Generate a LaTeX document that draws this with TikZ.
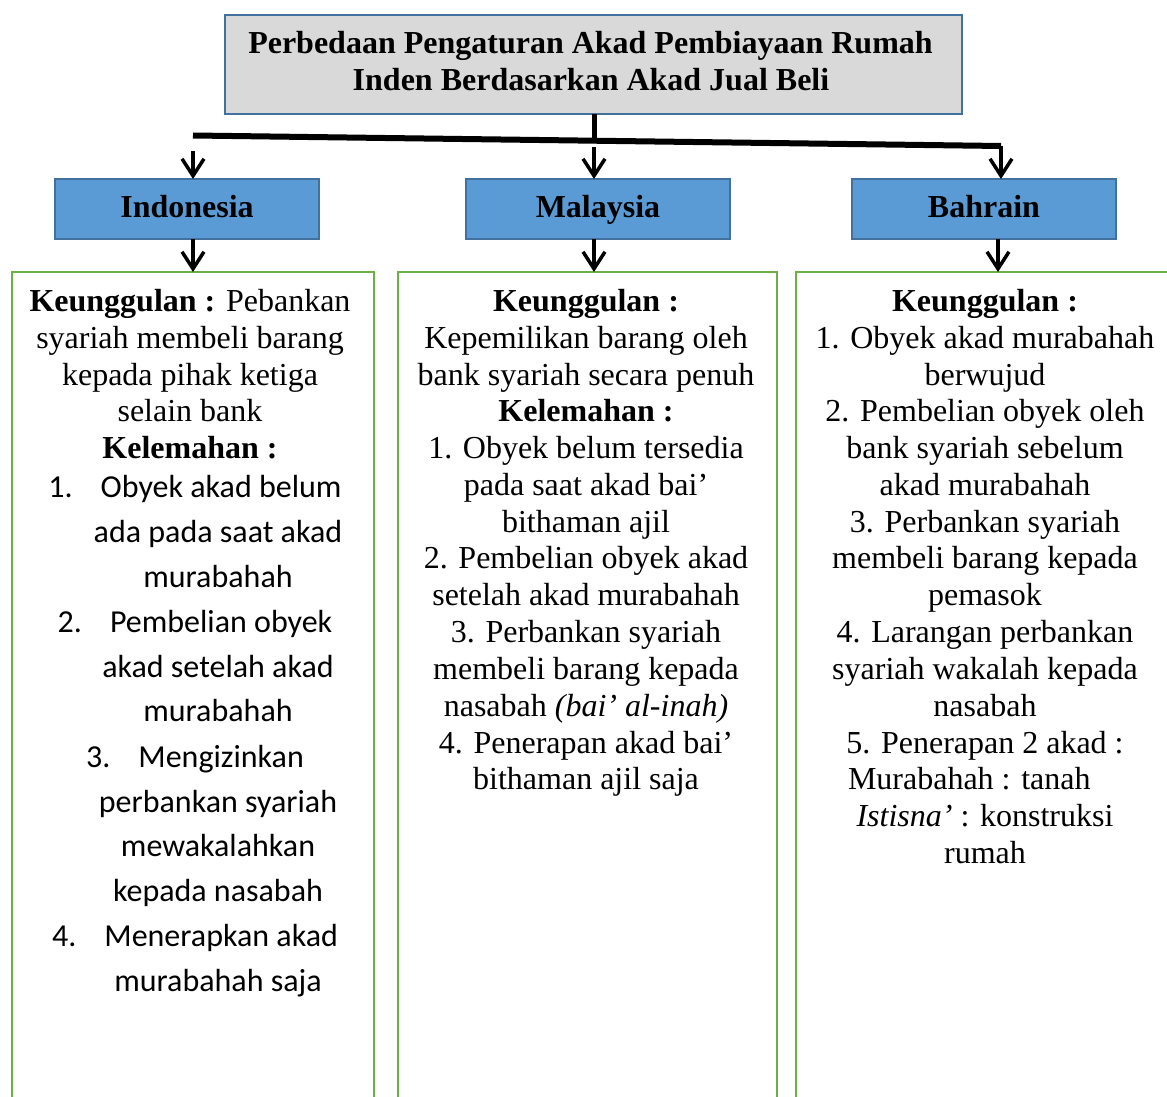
\documentclass[tikz,border=0pt]{standalone}
\usepackage{fontspec}
\setmainfont{Liberation Serif}
\newfontfamily\calibfont{Carlito}
\usetikzlibrary{arrows.meta}
\definecolor{titlefill}{HTML}{D9D9D9}
\definecolor{boxborder}{HTML}{41719C}
\definecolor{boxfill}{HTML}{5B9BD5}
\definecolor{greenline}{HTML}{70AD47}
\begin{document}
\begin{tikzpicture}[x=1pt,y=-1pt,
 every node/.style={inner sep=0pt, outer sep=0pt},
 txt/.style={anchor=base, font=\fontsize{32}{37}\selectfont},
 btxt/.style={anchor=base, font=\bfseries\fontsize{32}{37}\selectfont},
 ltxt/.style={anchor=base, font=\calibfont\fontsize{32}{45}\selectfont},
 titlebox/.style={draw=boxborder, fill=titlefill, line width=2.5pt, minimum width=737, minimum height=99},
 countrybox/.style={draw=boxborder, fill=boxfill, line width=2.5pt, minimum width=264, minimum height=60, text height=23pt, text depth=7pt, font=\bfseries\fontsize{32}{37}\selectfont},
 greenbox/.style={draw=greenline, line width=2.5pt, minimum height=900, anchor=north west},
 arr/.style={line width=3.5pt, -{Straight Barb[length=17pt,width=22pt]}},
 thickline/.style={line width=6pt}
]
\useasboundingbox (0,0) rectangle (1167,1097);

% boxes
\node[titlebox] (title) at (593.5,64.5) {};
\node[btxt] (t1) at (590.5,53.5) {Perbedaan Pengaturan Akad Pembiayaan Rumah};
\node[btxt] (t2) at (591,90.5) {Inden Berdasarkan Akad Jual Beli};
\node[countrybox] (ind) at (187,209) {Indonesia\hspace{6pt}};
\node[countrybox] (mal) at (598,209) {Malaysia\hspace{5pt}};
\node[countrybox] (bah) at (984,209) {Bahrain\hspace{4pt}};
\node[greenbox, minimum width=362] (gi) at (12,272) {};
\node[greenbox, minimum width=379] (gm) at (398,272) {};
\node[greenbox, minimum width=420] (gb) at (796,272) {};

% connectors
\coordinate (hl) at (193,135.5);
\coordinate (hm) at (594,139.5);
\coordinate (hr) at (1001,146);
\coordinate (ia) at (193,151);
\coordinate (ma) at (594,147);
\coordinate (ba) at (998,240);
\draw[line width=5pt] (title.south -| hm) -- (hm);
\draw[thickline] (hl) -- (hr);
\draw[arr] (hr) -- (bah.north -| hr);
\draw[arr] (ia) -- (ind.north -| ia);
\draw[arr] (ma) -- (mal.north -| ma);
\draw[arr] (ind.south -| ia) -- (gi.north -| ia);
\draw[arr] (mal.south -| ma) -- (gm.north -| ma);
\draw[arr] (bah.south -| ba) -- (gb.north -| ba);

% Indonesia text
\node[txt] (l1) at (190,311) {\textbf{Keunggulan :} Pebankan};
\node[txt] (l2) at (190,348) {syariah membeli barang};
\node[txt] (l3) at (190,385) {kepada pihak ketiga};
\node[txt] (l4) at (190,421) {selain bank};
\node[txt] (l5) at (190,458) {\textbf{Kelemahan :}};
\node[ltxt] (l6) at (195,497) {1.\hspace{28pt}Obyek akad belum};
\node[ltxt] (l7) at (218,542) {ada pada saat akad};
\node[ltxt] (l8) at (218,587) {murabahah};
\node[ltxt] (l9) at (195,632) {2.\hspace{28pt}Pembelian obyek};
\node[ltxt] (l10) at (218,677) {akad setelah akad};
\node[ltxt] (l11) at (218,721) {murabahah};
\node[ltxt] (l12) at (195,767) {3.\hspace{28pt}Mengizinkan};
\node[ltxt] (l13) at (218,812) {perbankan syariah};
\node[ltxt] (l14) at (218,856) {mewakalahkan};
\node[ltxt] (l15) at (218,901) {kepada nasabah};
\node[ltxt] (l16) at (195,946) {4.\hspace{28pt}Menerapkan akad};
\node[ltxt] (l17) at (218,991) {murabahah saja};

% Malaysia text
\node[txt] (m1) at (586,311) {\textbf{Keunggulan :}};
\node[txt] (m2) at (586,348) {Kepemilikan barang oleh};
\node[txt] (m3) at (586,385) {bank syariah secara penuh};
\node[txt] (m4) at (586,421) {\textbf{Kelemahan :}};
\node[txt] (m5) at (586,458) {1. Obyek belum tersedia};
\node[txt] (m6) at (586,495) {pada saat akad bai’};
\node[txt] (m7) at (586,532) {bithaman ajil};
\node[txt] (m8) at (586,568) {2. Pembelian obyek akad};
\node[txt] (m9) at (586,605) {setelah akad murabahah};
\node[txt] (m10) at (586,642) {3. Perbankan syariah};
\node[txt] (m11) at (586,679) {membeli barang kepada};
\node[txt] (m12) at (586,716) {nasabah \textit{(bai’ al-inah)}};
\node[txt] (m13) at (586,753) {4. Penerapan akad bai’};
\node[txt] (m14) at (586,789) {bithaman ajil saja};

% Bahrain text
\node[txt] (b1) at (985,311) {\textbf{Keunggulan :}};
\node[txt] (b2) at (985,348) {1. Obyek akad murabahah};
\node[txt] (b3) at (985,385) {berwujud};
\node[txt] (b4) at (985,421) {2. Pembelian obyek oleh};
\node[txt] (b5) at (985,458) {bank syariah sebelum};
\node[txt] (b6) at (985,495) {akad murabahah};
\node[txt] (b7) at (985,532) {3. Perbankan syariah};
\node[txt] (b8) at (985,568) {membeli barang kepada};
\node[txt] (b9) at (985,605) {pemasok};
\node[txt] (b10) at (985,642) {4. Larangan perbankan};
\node[txt] (b11) at (985,679) {syariah wakalah kepada};
\node[txt] (b12) at (985,716) {nasabah};
\node[txt] (b13) at (985,753) {5. Penerapan 2 akad :};
\node[txt, anchor=base west] (b14) at (848,789) {Murabahah : tanah};
\node[txt] (b15) at (985,826) {\textit{Istisna’} : konstruksi};
\node[txt] (b16) at (985,863) {rumah};
\end{tikzpicture}
\end{document}
